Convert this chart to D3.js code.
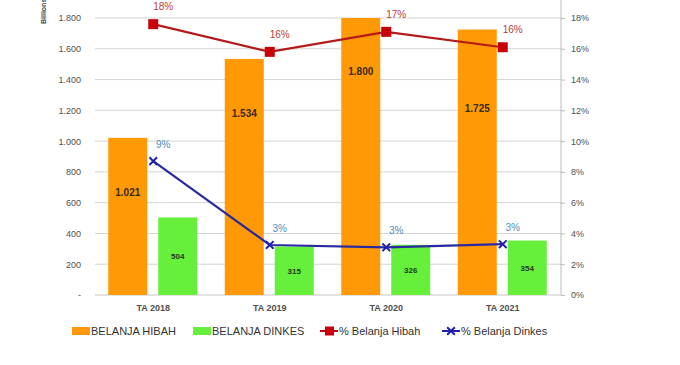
<!DOCTYPE html>
<html>
<head>
<meta charset="utf-8">
<script src="https://cdn.jsdelivr.net/npm/d3@7"></script>
<style>
  body { margin: 0; background: #fff; }
  svg { font-family: "Liberation Sans", Arial, sans-serif; }
  .grid line { stroke: #d4d4d4; }
  .axis text { fill: #505050; font-size: 9px; }
</style>
</head>
<body>
<svg id="chart" width="680" height="365"></svg>
<script>
// data
const categories = ["TA 2018", "TA 2019", "TA 2020", "TA 2021"];
const belanjaHibah = [1021, 1534, 1800, 1725];
const belanjaDinkes = [504, 315, 326, 354];
const pctHibah = [17.6, 15.8, 17.1, 16.1];
const pctDinkes = [8.7, 3.25, 3.1, 3.3];
const pctHibahLabels = ["18%", "16%", "17%", "16%"];
const pctDinkesLabels = ["9%", "3%", "3%", "3%"];
// where the hibah value label sits inside its bar (in bar units)
const hibahLabelAt = [665, 1180, 1455, 1210];
const leftTicks = [0, 200, 400, 600, 800, 1000, 1200, 1400, 1600, 1800];
const rightTicks = [0, 2, 4, 6, 8, 10, 12, 14, 16, 18];

const svg = d3.select("#chart");
const plotL = 95, plotR = 561, plotT = 18, plotB = 295;

const idLocale = d3.formatLocale({decimal: ",", thousands: ".", grouping: [3], currency: ["", ""]});
const fmt = idLocale.format(",.0f");

const x = d3.scaleBand().domain(categories).range([plotL, plotR]);
const xs = d3.scaleBand().domain(["hibah", "dinkes"]).range([-45, 44]).paddingInner(0.22);
const y = d3.scaleLinear().domain([0, 1800]).range([plotB, plotT]);
const y2 = d3.scaleLinear().domain([0, 18]).range([plotB, plotT]);
const cx = c => x(c) + x.bandwidth() / 2;

// gridlines
svg.append("g").attr("class", "grid")
  .selectAll("line").data(leftTicks.slice(1)).join("line")
  .attr("x1", plotL).attr("x2", plotR)
  .attr("y1", d => y(d)).attr("y2", d => y(d));

// left axis
const ax = svg.append("g").attr("class", "axis")
  .attr("transform", `translate(${plotL},0)`)
  .call(d3.axisLeft(y).tickValues(leftTicks).tickSize(0).tickPadding(14)
    .tickFormat(d => d === 0 ? "-" : fmt(d)));
ax.select(".domain").remove();

// right axis
const ay = svg.append("g").attr("class", "axis")
  .attr("transform", `translate(${plotR},0)`)
  .call(d3.axisRight(y2).tickValues(rightTicks).tickSize(4).tickPadding(6)
    .tickFormat(d => d + "%"));
ay.selectAll("line, .domain").attr("stroke", "#bbb");
ay.select(".domain").attr("d", `M0,${plotT - 18}V${plotB}`);

// x axis
const xa = svg.append("g").attr("class", "axis")
  .attr("transform", `translate(0,${plotB})`)
  .call(d3.axisBottom(x).tickSize(0).tickPadding(10));
xa.select(".domain").attr("stroke", "#c8c8c8").attr("d", `M${plotL},0H${plotR}`);
xa.selectAll("text").attr("font-weight", "bold").attr("fill", "#444");

// unit label
svg.append("text")
  .attr("transform", "translate(46,24) rotate(-90)")
  .attr("font-size", 7).attr("font-weight", "bold").attr("fill", "#444")
  .text("Billions");

// bars
const rows = categories.map((c, i) => ({c, i, hibah: belanjaHibah[i], dinkes: belanjaDinkes[i]}));
const bars = svg.append("g");
bars.selectAll(".hibah").data(rows).join("rect")
  .attr("x", d => cx(d.c) + xs("hibah")).attr("width", xs.bandwidth())
  .attr("y", d => y(d.hibah)).attr("height", d => y(0) - y(d.hibah))
  .attr("fill", "#ff9a06");
bars.selectAll(".dinkes").data(rows).join("rect")
  .attr("x", d => cx(d.c) + xs("dinkes")).attr("width", xs.bandwidth())
  .attr("y", d => y(d.dinkes)).attr("height", d => y(0) - y(d.dinkes))
  .attr("fill", "#66f03c");

// bar value labels
bars.selectAll(".lh").data(rows).join("text")
  .attr("x", d => cx(d.c) + xs("hibah") + xs.bandwidth() / 2)
  .attr("y", d => y(hibahLabelAt[d.i]))
  .attr("dy", "0.35em").attr("text-anchor", "middle")
  .attr("font-size", 10).attr("font-weight", "bold").attr("fill", "#3a2a10")
  .text(d => fmt(d.hibah));
bars.selectAll(".ld").data(rows).join("text")
  .attr("x", d => cx(d.c) + xs("dinkes") + xs.bandwidth() / 2)
  .attr("y", d => y(d.dinkes / 2))
  .attr("dy", "0.35em").attr("text-anchor", "middle")
  .attr("font-size", 8).attr("font-weight", "bold").attr("fill", "#1d3a10")
  .text(d => fmt(d.dinkes));

// lines
const line = d3.line().x((d, i) => cx(categories[i])).y(d => y2(d));
svg.append("path").attr("d", line(pctHibah))
  .attr("fill", "none").attr("stroke", "#b41a1a").attr("stroke-width", 2.2);
svg.append("path").attr("d", line(pctDinkes))
  .attr("fill", "none").attr("stroke", "#2a2aa0").attr("stroke-width", 2.2);

svg.append("g").selectAll("rect").data(pctHibah).join("rect")
  .attr("x", (d, i) => cx(categories[i]) - 5).attr("y", d => y2(d) - 5)
  .attr("width", 10).attr("height", 10).attr("fill", "#c8000a");

const xMark = d3.symbol().type(d3.symbolX).size(40);
svg.append("g").selectAll("path").data(pctDinkes).join("path")
  .attr("transform", (d, i) => `translate(${cx(categories[i])},${y2(d)})`)
  .attr("d", xMark).attr("fill", "none").attr("stroke", "#2020b0").attr("stroke-width", 2);

svg.append("g").selectAll("text").data(pctHibah).join("text")
  .attr("x", (d, i) => cx(categories[i]) + 10).attr("y", d => y2(d) - 14)
  .attr("text-anchor", "middle").attr("font-size", 10).attr("fill", "#c03a3a")
  .text((d, i) => pctHibahLabels[i]);
svg.append("g").selectAll("text").data(pctDinkes).join("text")
  .attr("x", (d, i) => cx(categories[i]) + 10).attr("y", d => y2(d) - 13)
  .attr("text-anchor", "middle").attr("font-size", 10).attr("fill", "#4f8fc0")
  .text((d, i) => pctDinkesLabels[i]);

// legend
const legend = [
  {label: "BELANJA HIBAH", kind: "bar", color: "#ff9a06", x: 72},
  {label: "BELANJA DINKES", kind: "bar", color: "#66f03c", x: 193},
  {label: "% Belanja Hibah", kind: "sq", color: "#c8000a", x: 320},
  {label: "% Belanja Dinkes", kind: "x", color: "#2020b0", x: 442}
];
const lg = svg.append("g").attr("transform", "translate(0,331)");
const item = lg.selectAll("g").data(legend).join("g")
  .attr("transform", d => `translate(${d.x},0)`);
item.filter(d => d.kind === "bar").append("rect")
  .attr("x", 0).attr("y", -4).attr("width", 18).attr("height", 8).attr("fill", d => d.color);
item.filter(d => d.kind !== "bar").append("line")
  .attr("x1", 0).attr("x2", 18).attr("stroke", d => d.color).attr("stroke-width", 2);
item.filter(d => d.kind === "sq").append("rect")
  .attr("x", 5).attr("y", -4.5).attr("width", 9).attr("height", 9).attr("fill", d => d.color);
item.filter(d => d.kind === "x").append("path")
  .attr("transform", "translate(9,0)").attr("d", xMark)
  .attr("fill", "none").attr("stroke", d => d.color).attr("stroke-width", 2);
item.append("text")
  .attr("x", 19).attr("dy", "0.35em").attr("font-size", 11).attr("fill", "#333")
  .text(d => d.label);
</script>
</body>
</html>
